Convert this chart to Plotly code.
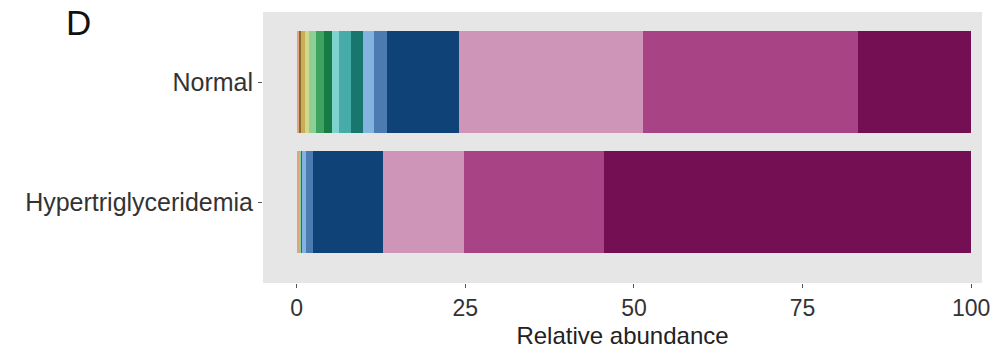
import plotly.graph_objects as go

# Groups (top to bottom) and their y positions
groups = ["Normal", "Hypertriglyceridemia"]
group_pos = [2, 1]

# Taxa in stacking order (left to right)
taxa = [f"Taxon {i}" for i in range(1, 17)]

# Relative abundance (%) of each taxon per group
normal = [0.37, 0.22, 0.67, 0.52, 1.12, 1.08, 1.19, 1.14,
          1.74, 1.73, 1.63, 1.99, 10.67, 27.27, 31.94, 16.72]
hyper = [0.37, 0.02, 0.02, 0.03, 0.25, 0.02, 0.01, 0.01,
         0.01, 0.01, 0.66, 1.04, 10.33, 11.96, 20.81, 54.45]

colors = ["#e0a57c", "#8a6a30", "#c9ad57", "#cfd98e", "#8fcf96", "#3fa360",
          "#187a45", "#7fd3cf", "#47aca9", "#17776f", "#84b3e2", "#4b7bb0",
          "#0f4277", "#cf95b9", "#a84486", "#730f52"]

x_ticks = [0, 25, 50, 75, 100]

W, H = 994, 349
ML, MR, MT, MB = 263, 12, 12, 66

fig = go.Figure()
for i, name in enumerate(taxa):
    fig.add_trace(go.Bar(
        x=[normal[i], hyper[i]],
        y=group_pos,
        orientation="h",
        name=name,
        width=0.85,
        marker=dict(color=colors[i], line=dict(width=0)),
        showlegend=False,
    ))

fig.update_layout(
    barmode="stack",
    width=W, height=H,
    margin=dict(l=ML, r=MR, t=MT, b=MB),
    paper_bgcolor="white",
    plot_bgcolor="#e6e6e6",
    font=dict(family="Liberation Sans, Arial, sans-serif", color="#333333", size=22),
    xaxis=dict(
        range=[-5.0, 101.6],
        automargin=False,
        tickvals=x_ticks,
        ticktext=[str(v) for v in x_ticks],
        ticks="outside", ticklen=4, tickcolor="#555555", tickwidth=1,
        showgrid=False, zeroline=False, showline=False,
        tickfont=dict(size=23, color="#333333"),
        title=dict(text="Relative abundance", font=dict(size=24, color="#222222"), standoff=7),
    ),
    yaxis=dict(
        range=[0.325, 2.585],
        automargin=False,
        tickvals=group_pos,
        ticktext=groups,
        ticks="outside", ticklen=4, tickcolor="#555555", tickwidth=1,
        showgrid=False, zeroline=False, showline=False,
        tickfont=dict(size=25, color="#333333"),
    ),
    annotations=[dict(
        text="D",
        x=(64 - ML) / (W - ML - MR), y=1 + (MT - 1) / (H - MT - MB),
        xref="paper", yref="paper",
        showarrow=False, font=dict(size=35, color="#111111"),
        xanchor="left", yanchor="top",
    )],
)

fig.write_html("out.html")
